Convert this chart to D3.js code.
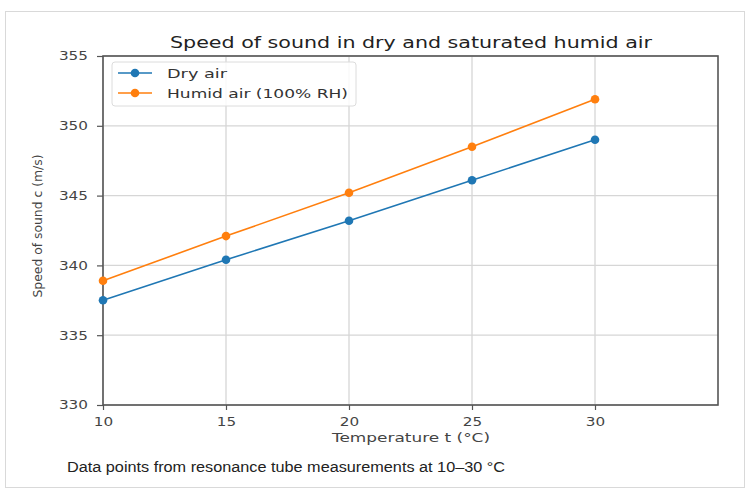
<!DOCTYPE html>
<html>
<head>
<meta charset="utf-8">
<script src="https://cdn.jsdelivr.net/npm/d3@7"></script>
<style>
  body { margin: 0; background: #fff; }
  svg { display: block; }
</style>
</head>
<body>
<svg id="chart"></svg>
<script>
const W = 750, H = 493;

// data
const temps = [10, 15, 20, 25, 30];
const dryAir = [337.5, 340.4, 343.2, 346.1, 349.0];
const humidAir = [338.9, 342.1, 345.2, 348.5, 351.9];
const xTicks = [10, 15, 20, 25, 30];
const yTicks = [330, 335, 340, 345, 350, 355];
const seriesNames = ['Dry air', 'Humid air (100% RH)'];
const seriesColors = ['#1f77b4', '#ff7f0e'];

const plot = { left: 103, right: 718, top: 56, bottom: 405 };
const tickFont = '"DejaVu Sans", sans-serif';
// the reference image is stretched sideways, so text is too
const SX = 1.27;

const svg = d3.select('#chart').attr('width', W).attr('height', H);

// outer frame
svg.append('rect')
	.attr('x', 5.5).attr('y', 11.5)
	.attr('width', 739).attr('height', 476)
	.attr('fill', '#fff')
	.attr('stroke', '#d9d9d9');

const x = d3.scaleLinear().domain([10, 35]).range([plot.left, plot.right]);
const y = d3.scaleLinear().domain([330, 355]).range([plot.bottom, plot.top]);

const g = svg.append('g');

// grid
g.selectAll('line.vgrid')
	.data(xTicks)
	.enter()
	.append('line')
	.attr('class', 'vgrid')
	.attr('x1', (d) => x(d)).attr('x2', (d) => x(d))
	.attr('y1', plot.top).attr('y2', plot.bottom)
	.attr('stroke', '#d6d6d6')
	.attr('stroke-width', 1.3);

g.selectAll('line.hgrid')
	.data(yTicks)
	.enter()
	.append('line')
	.attr('class', 'hgrid')
	.attr('x1', plot.left).attr('x2', plot.right)
	.attr('y1', (d) => y(d)).attr('y2', (d) => y(d))
	.attr('stroke', '#d6d6d6')
	.attr('stroke-width', 1.3);

// axes
const xAxis = g.append('g')
	.attr('transform', `translate(0,${plot.bottom})`)
	.call(d3.axisBottom(x).tickValues(xTicks).tickSize(5).tickPadding(7));
const yAxis = g.append('g')
	.attr('transform', `translate(${plot.left},0)`)
	.call(d3.axisLeft(y).tickValues(yTicks).tickSize(6).tickPadding(6));

[xAxis, yAxis].forEach((ax) => {
	ax.select('.domain').remove();
	ax.selectAll('line').attr('stroke', '#555').attr('stroke-width', 1.2);
	ax.selectAll('text')
		.attr('fill', '#444')
		.style('font-family', tickFont)
		.style('font-size', '12px');
});
xAxis.selectAll('text').attr('transform', `scale(${SX},1)`);
yAxis.selectAll('text')
	.attr('x', 0)
	.attr('transform', `translate(-15,0) scale(${SX},1)`);

// plot frame
g.append('rect')
	.attr('x', plot.left).attr('y', plot.top)
	.attr('width', plot.right - plot.left)
	.attr('height', plot.bottom - plot.top)
	.attr('fill', 'none')
	.attr('stroke', '#555')
	.attr('stroke-width', 1.6);

// series
const series = [dryAir, humidAir];
const line = d3.line()
	.x((d, i) => x(temps[i]))
	.y((d) => y(d));

series.forEach((vals, k) => {
	g.append('path')
		.datum(vals)
		.attr('d', line)
		.attr('fill', 'none')
		.attr('stroke', seriesColors[k])
		.attr('stroke-width', 1.6);
	g.selectAll(`circle.s${k}`)
		.data(vals)
		.enter()
		.append('circle')
		.attr('class', `s${k}`)
		.attr('cx', (d, i) => x(temps[i]))
		.attr('cy', (d) => y(d))
		.attr('r', 4.3)
		.attr('fill', seriesColors[k]);
});

// legend
const legendWidths = [60, 181];
const legend = g.append('g').attr('transform', `translate(${plot.left + 9},${plot.top + 6})`);
legend.append('rect')
	.attr('width', 244).attr('height', 44)
	.attr('rx', 3)
	.attr('fill', 'rgba(255,255,255,0.85)')
	.attr('stroke', '#dcdcdc');
seriesNames.forEach((name, k) => {
	const ly = 11 + k * 20;
	legend.append('line')
		.attr('x1', 6).attr('x2', 40)
		.attr('y1', ly).attr('y2', ly)
		.attr('stroke', seriesColors[k])
		.attr('stroke-width', 1.6);
	legend.append('circle')
		.attr('cx', 23).attr('cy', ly).attr('r', 4.3)
		.attr('fill', seriesColors[k]);
	legend.append('text')
		.attr('x', 55).attr('y', ly + 4.5)
		.attr('fill', '#333')
		.attr('textLength', legendWidths[k])
		.attr('lengthAdjust', 'spacingAndGlyphs')
		.style('font-family', tickFont)
		.style('font-size', '12.5px')
		.text(name);
});

// title and labels
function stretchedText(tx, ty, width, size, color, str) {
	return svg.append('text')
		.attr('x', tx - width / 2).attr('y', ty)
		.attr('fill', color)
		.attr('textLength', width)
		.attr('lengthAdjust', 'spacingAndGlyphs')
		.style('font-family', tickFont)
		.style('font-size', size)
		.text(str);
}

stretchedText(411, 48, 482, '16px', '#222', 'Speed of sound in dry and saturated humid air');
stretchedText(411, 442, 158, '12.5px', '#444', 'Temperature t (°C)');

svg.append('text')
	.attr('transform', `translate(42,${226}) rotate(-90)`)
	.attr('x', -143 / 2)
	.attr('fill', '#444')
	.attr('textLength', 143)
	.attr('lengthAdjust', 'spacingAndGlyphs')
	.style('font-family', tickFont)
	.style('font-size', '12px')
	.text('Speed of sound c (m/s)');

svg.append('text')
	.attr('x', 67).attr('y', 472)
	.attr('fill', '#222')
	.attr('textLength', 438)
	.attr('lengthAdjust', 'spacingAndGlyphs')
	.style('font-family', '"Liberation Sans", Arial, sans-serif')
	.style('font-size', '14px')
	.text('Data points from resonance tube measurements at 10–30 °C');
</script>
</body>
</html>
